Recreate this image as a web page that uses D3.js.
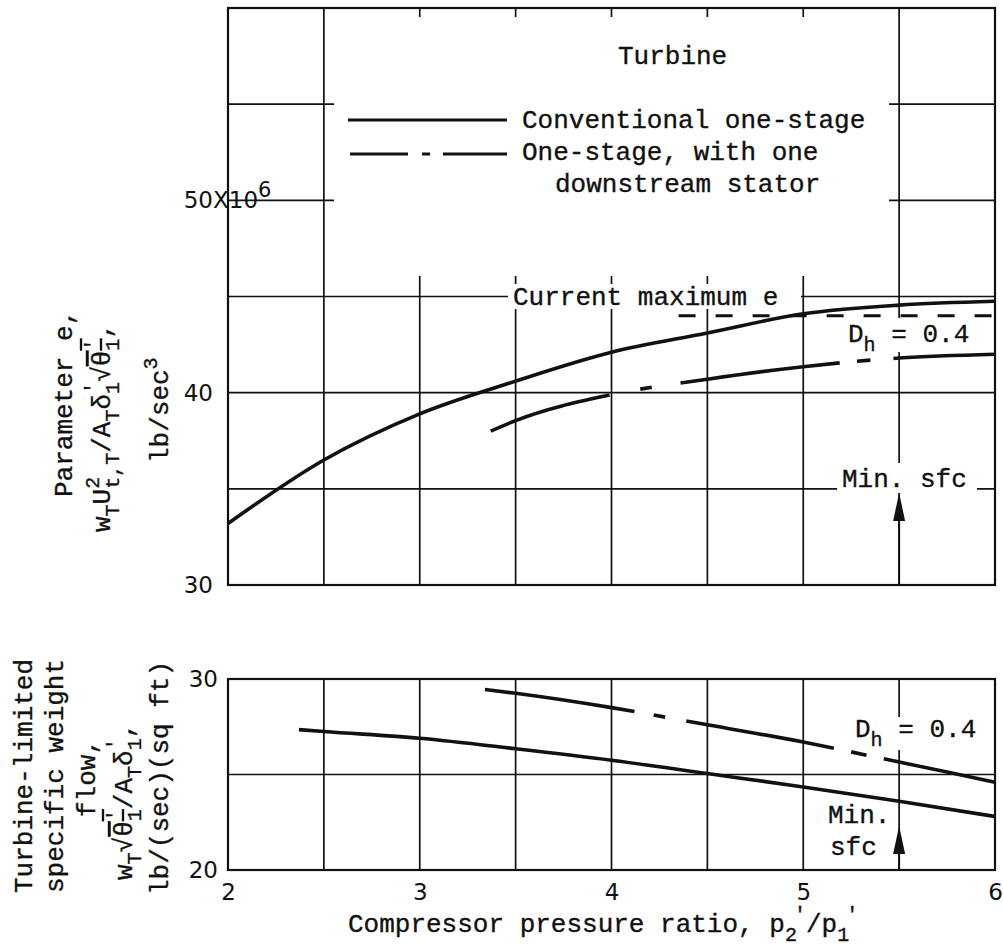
<!DOCTYPE html>
<html><head><meta charset="utf-8">
<script src="https://cdn.jsdelivr.net/npm/d3@7"></script>
<style>
html,body{margin:0;padding:0;background:#fff;}
svg{display:block;}
.mono{font-family:"Liberation Mono","DejaVu Sans Mono",monospace;font-size:26px;fill:#111;stroke:#111;stroke-width:0.35px;}
.num{font-family:"DejaVu Sans",sans-serif;font-size:23px;fill:#111;}
</style></head><body>
<svg id="chart" width="1003" height="952"></svg>
<script>
// ---- data ----
const pressureTicks = [2, 3, 4, 5, 6];
const topYTicks = [30, 40, 50];
const bottomYTicks = [20, 30];
const gridRatios = [2.5, 3, 3.5, 4, 4.5, 5, 5.5];
const topGridE = [35, 40, 45, 50, 55];
const bottomGridFlow = [25];

// parameter e (x10^6 lb/sec^3) vs compressor pressure ratio
const ratioConvTop = [2, 2.5, 3, 3.5, 4, 4.5, 5, 5.5, 6];
const eConventional = [33.2, 36.5, 38.9, 40.6, 42.1, 43.1, 44.1, 44.55, 44.75];
const ratioStatorTop = [3.37, 3.5, 4, 4.5, 5, 5.5, 6];
const eStator = [38.0, 38.55, 39.9, 40.7, 41.35, 41.8, 42.0];
const currentMaxE = 45;
const statorMaxE = 44.0;
const statorMaxRatios = [4.35, 6];

// turbine-limited specific weight flow vs compressor pressure ratio
const ratioConvBottom = [2.37, 2.5, 3, 3.5, 4, 4.5, 5, 5.5, 6];
const flowConventional = [27.35, 27.25, 26.9, 26.35, 25.75, 25.05, 24.35, 23.6, 22.8];
const ratioStatorBottom = [3.34, 3.5, 4, 4.5, 5, 5.5, 6];
const flowStator = [29.45, 29.25, 28.5, 27.6, 26.7, 25.65, 24.6];
const minSfcRatio = 5.5;

// ---- drawing ----
const svg = d3.select("#chart");
const x = d3.scaleLinear().domain([2, 6]).range([228, 995]);
const yTop = d3.scaleLinear().domain([30, 60]).range([585, 8]);
const yBot = d3.scaleLinear().domain([20, 30]).range([870, 679]);

// long-dash / short-dash runs of the stator curves, in pressure-ratio units
const topStatorRuns = [[3.37, 3.99], [4.15, 4.21], [4.36, 5.19], [5.28, 5.35], [5.47, 6]];
const botStatorRuns = [[3.34, 4.12], [4.22, 4.28], [4.39, 5.16], [5.25, 5.33], [5.42, 6]];

function grid(g, y, yVals) {
  const [y0, y1] = y.range();
  g.selectAll(null).data(gridRatios).join("line")
    .attr("x1", d => x(d)).attr("x2", d => x(d))
    .attr("y1", y0).attr("y2", y1)
    .attr("stroke", "#111").attr("stroke-width", 1.7);
  g.selectAll(null).data(yVals).join("line")
    .attr("x1", x.range()[0]).attr("x2", x.range()[1])
    .attr("y1", d => y(d)).attr("y2", d => y(d))
    .attr("stroke", "#111").attr("stroke-width", 1.7);
}
function mask(g, x0, y0, x1, y1) {
  g.append("rect").attr("x", x0).attr("y", y0).attr("width", x1 - x0).attr("height", y1 - y0).attr("fill", "#fff");
}
function frame(g, y) {
  const [y0, y1] = y.range();
  g.append("rect").attr("x", x.range()[0]).attr("y", y1)
    .attr("width", x.range()[1] - x.range()[0]).attr("height", y0 - y1)
    .attr("fill", "none").attr("stroke", "#111").attr("stroke-width", 2.2);
}
function curve(g, y, xs, ys) {
  const line = d3.line().x(d => x(d[0])).y(d => y(d[1])).curve(d3.curveMonotoneX);
  return g.append("path").datum(d3.zip(xs, ys)).attr("d", line)
    .attr("fill", "none").attr("stroke", "#111").attr("stroke-width", 3.6);
}
function runDashes(node, runs) {
  const total = node.getTotalLength();
  const lenAt = xv => {
    const target = x(xv); let lo = 0, hi = total;
    for (let i = 0; i < 32; i++) { const m = (lo + hi) / 2; if (node.getPointAtLength(m).x < target) lo = m; else hi = m; }
    return (lo + hi) / 2;
  };
  const arr = []; let pos = 0;
  runs.forEach(([a, b], i) => {
    const la = lenAt(a), lb = lenAt(b);
    if (i > 0) arr.push(la - pos); else if (la > 0.5) arr.push(0, la);
    arr.push(lb - la); pos = lb;
  });
  arr.push(total + 20);
  return arr.join(" ");
}
function rich(parent, parts, attrs) {
  const t = parent.append("text").attr("class", "mono");
  Object.entries(attrs).forEach(([k, v]) => t.attr(k, v));
  parts.forEach(p => {
    const s = t.append("tspan").text(p.t);
    if (p.sub) s.attr("baseline-shift", -9).style("font-size", "20px");
    if (p.sup) s.attr("baseline-shift", 11).style("font-size", "20px");
    if (p.dx) s.attr("dx", p.dx);
    if (p.over) s.style("text-decoration", "overline");
  });
  return t;
}
function arrowUp(g, xv, yTip, yBase) {
  g.append("line").attr("x1", x(xv)).attr("x2", x(xv)).attr("y1", yBase).attr("y2", yTip + 10)
    .attr("stroke", "#111").attr("stroke-width", 2);
  g.append("path").attr("d", `M${x(xv)},${yTip} L${x(xv) - 6},${yTip + 28} L${x(xv) + 6},${yTip + 28} Z`).attr("fill", "#111");
}

// ---------- upper panel: parameter e ----------
const upper = svg.append("g");
grid(upper, yTop, topGridE);
mask(upper, 334, 17, 889, 276);                 // legend area
mask(upper, 508, 284, 801, 309);                // "Current maximum e" label
mask(upper, 843, 318, 982, 352);                // D_h label
mask(upper, x(minSfcRatio) - 62, 463, 977, 493); // Min. sfc label
frame(upper, yTop);

upper.append("g").attr("transform", `translate(${x.range()[0]},0)`)
  .call(d3.axisLeft(yTop).tickValues(topYTicks).tickSize(0).tickPadding(15))
  .call(g => g.select(".domain").remove())
  .call(g => g.selectAll("text").attr("fill", "#111").style("font-size", "23px").style("font-family", "DejaVu Sans"));
const mult = upper.append("text").attr("class", "num").attr("x", 213).attr("y", yTop(50) + 8);
mult.append("tspan").text("X10");
mult.append("tspan").text("6").attr("baseline-shift", 11).style("font-size", "21px");

curve(upper, yTop, ratioConvTop, eConventional);
const ps = curve(upper, yTop, ratioStatorTop, eStator);
ps.attr("stroke-dasharray", runDashes(ps.node(), topStatorRuns));
upper.append("line")
  .attr("x1", x(statorMaxRatios[0])).attr("x2", x(statorMaxRatios[1]))
  .attr("y1", yTop(statorMaxE)).attr("y2", yTop(statorMaxE))
  .attr("stroke", "#111").attr("stroke-width", 3).attr("stroke-dasharray", "17 20");

// legend
rich(upper, [{t: "Turbine"}], {x: 618, y: 64});
upper.append("line").attr("x1", 348).attr("x2", 507).attr("y1", 120).attr("y2", 120).attr("stroke", "#111").attr("stroke-width", 3.2);
rich(upper, [{t: "Conventional one-stage"}], {x: 522, y: 128});
upper.append("line").attr("x1", 350).attr("x2", 507).attr("y1", 154).attr("y2", 154).attr("stroke", "#111").attr("stroke-width", 3.2)
  .attr("stroke-dasharray", "58 14 8 13 80");
rich(upper, [{t: "One-stage, with one"}], {x: 522, y: 160});
rich(upper, [{t: "downstream stator"}], {x: 555, y: 192});

rich(upper, [{t: "Current maximum  e"}], {x: 513, y: yTop(currentMaxE) + 8});
rich(upper, [{t: "D"}, {t: "h", sub: true}, {t: " = 0.4"}], {x: 848, y: 342});
rich(upper, [{t: "Min. sfc"}], {x: 842, y: 487});
arrowUp(upper, minSfcRatio, 493, yTop.range()[0]);

// ---------- lower panel: specific weight flow ----------
const lower = svg.append("g");
grid(lower, yBot, bottomGridFlow);
mask(lower, 850, 717, 990, 750);
frame(lower, yBot);

lower.append("g").attr("transform", `translate(${x.range()[0]},0)`)
  .call(d3.axisLeft(yBot).tickValues(bottomYTicks).tickSize(0).tickPadding(10))
  .call(g => g.select(".domain").remove())
  .call(g => g.selectAll("text").attr("fill", "#111").style("font-size", "23px").style("font-family", "DejaVu Sans"));
lower.append("g").attr("transform", `translate(0,${yBot.range()[0]})`)
  .call(d3.axisBottom(x).tickValues(pressureTicks).tickSize(0).tickPadding(14).tickFormat(d3.format("d")))
  .call(g => g.select(".domain").remove())
  .call(g => g.selectAll("text").attr("fill", "#111").style("font-size", "23px").style("font-family", "DejaVu Sans"));

curve(lower, yBot, ratioConvBottom, flowConventional);
const pb = curve(lower, yBot, ratioStatorBottom, flowStator);
pb.attr("stroke-dasharray", runDashes(pb.node(), botStatorRuns));

rich(lower, [{t: "D"}, {t: "h", sub: true}, {t: " = 0.4"}], {x: 855, y: 737});
rich(lower, [{t: "Min."}], {x: 828, y: 823});
rich(lower, [{t: "sfc"}], {x: 830, y: 855});
arrowUp(lower, minSfcRatio, 826, yBot.range()[0]);

// ---------- axis titles ----------
rich(svg, [{t: "Compressor pressure ratio, p"}, {t: "2", sub: true}, {t: "'", sup: true, dx: -3}, {t: "/p"}, {t: "1", sub: true}, {t: "'", sup: true, dx: -3}], {x: 348, y: 932});

const yt = svg.append("g").attr("transform", "rotate(-90)");
rich(yt, [{t: "Parameter  e,"}], {x: -497, y: 72});
rich(yt, [{t: "w"}, {t: "T", sub: true}, {t: "U"}, {t: "2", sup: true}, {t: "t,T", sub: true, dx: -12}, {t: "/A"}, {t: "T", sub: true},
  {t: "δ"}, {t: "'", sup: true}, {t: "1", sub: true, dx: -12}, {t: "√"}, {t: "θ", over: true}, {t: "'", sup: true, over: true}, {t: "1", sub: true, dx: -12, over: true}, {t: ","}],
  {x: -532, y: 110});
rich(yt, [{t: "lb/sec"}, {t: "3", sup: true}], {x: -463, y: 168});

rich(yt, [{t: "Turbine-limited"}], {x: -893, y: 32});
rich(yt, [{t: "specific weight"}], {x: -893, y: 63});
rich(yt, [{t: "flow,"}], {x: -817, y: 95});
rich(yt, [{t: "w"}, {t: "T", sub: true}, {t: "√"}, {t: "θ", over: true}, {t: "'", sup: true, over: true}, {t: "1", sub: true, dx: -12, over: true},
  {t: "/A"}, {t: "T", sub: true}, {t: "δ"}, {t: "'", sup: true}, {t: "1", sub: true, dx: -12}, {t: ","}], {x: -880, y: 132});
rich(yt, [{t: "lb/(sec)(sq ft)"}], {x: -895, y: 168});
</script></body></html>
